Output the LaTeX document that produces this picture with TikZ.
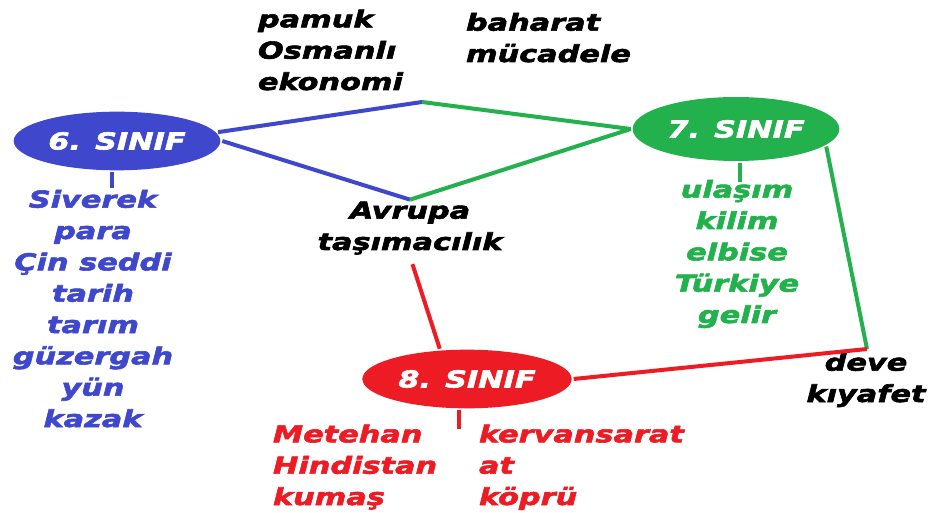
\documentclass[tikz,border=0pt]{standalone}
\usepackage{fontspec}
\newfontfamily\kalin[FakeStretch=1.3, FakeBold=2.5]{DejaVu Sans}
\usetikzlibrary{shapes.geometric}

\definecolor{mavi}{RGB}{63,72,204}
\definecolor{yesil}{RGB}{34,177,76}
\definecolor{kirmizi}{RGB}{237,28,36}

\begin{document}
\begin{tikzpicture}[x = 0.75pt, y = -0.75pt, line width = 3pt,
		yazi/.style = {inner sep = 0pt, font = {\kalin\bfseries\itshape\fontsize{17.5pt}{23.5pt}\selectfont}},
		sinif/.style = {ellipse, yazi, text = white, minimum width = 155pt, minimum height = 44pt}]
		
		\useasboundingbox (0,0) rectangle (928,513);
		
		\node [sinif, fill = mavi] (s6) at (117,141) {6. SINIF};
		\node [sinif, fill = yesil, minimum height = 48pt] (s7) at (736,129) {7. SINIF};
		\node [sinif, fill = kirmizi, minimum width = 157pt] (s8) at (467,379) {8. SINIF};
		
		% anchor base = baseline of the last line
		\node [yazi, align = left, anchor = base west] (ust1) at (256,90) {pamuk\\Osmanlı\\ekonomi};
		\node [yazi, align = left, anchor = base west] (ust2) at (464,62) {baharat\\mücadele};
		\node [yazi, align = center, anchor = base] (avrupa) at (410,250) {Avrupa\\taşımacılık};
		\node [yazi, align = center, anchor = base] (deve) at (866,402) {deve\\kıyafet};
		
		\node [yazi, text = mavi, align = center, anchor = base] (liste6) at (93,427) {Siverek\\para\\Çin seddi\\tarih\\tarım\\güzergah\\yün\\kazak};
		\node [yazi, text = yesil, align = center, anchor = base] (liste7) at (737,323) {ulaşım\\kilim\\elbise\\Türkiye\\gelir};
		\node [yazi, text = kirmizi, align = left, anchor = base west] (liste8a) at (271,505) {Metehan\\Hindistan\\kumaş};
		\node [yazi, text = kirmizi, align = left, anchor = base west] (liste8b) at (477,505) {kervansarat\\at\\köprü};
		
		\coordinate (tepe) at (422,102);
		\coordinate (kose) at (867,349);
		\coordinate (u6) at (112,188);
		\coordinate (u7) at (740,182);
		\coordinate (u8) at (459,429);
		
		\draw [mavi] (s6.5) -- (tepe);
		\draw [mavi] (s6.east) -- (avrupa.north);
		\draw [mavi] (s6.south -| u6) -- (u6);
		
		\draw [yesil] (tepe) -- (s7.west);
		\draw [yesil] (avrupa.north) -- (s7.west);
		\draw [yesil] (s7.-11) -- (kose);
		\draw [yesil] (s7.south -| u7) -- (u7);
		
		\draw [kirmizi] (kose) -- (s8.east);
		\draw [kirmizi, shorten <= 6pt] (avrupa.south) -- (s8.132);
		\draw [kirmizi] (s8.south -| u8) -- (u8);
		
		\end{tikzpicture}
\end{document}
